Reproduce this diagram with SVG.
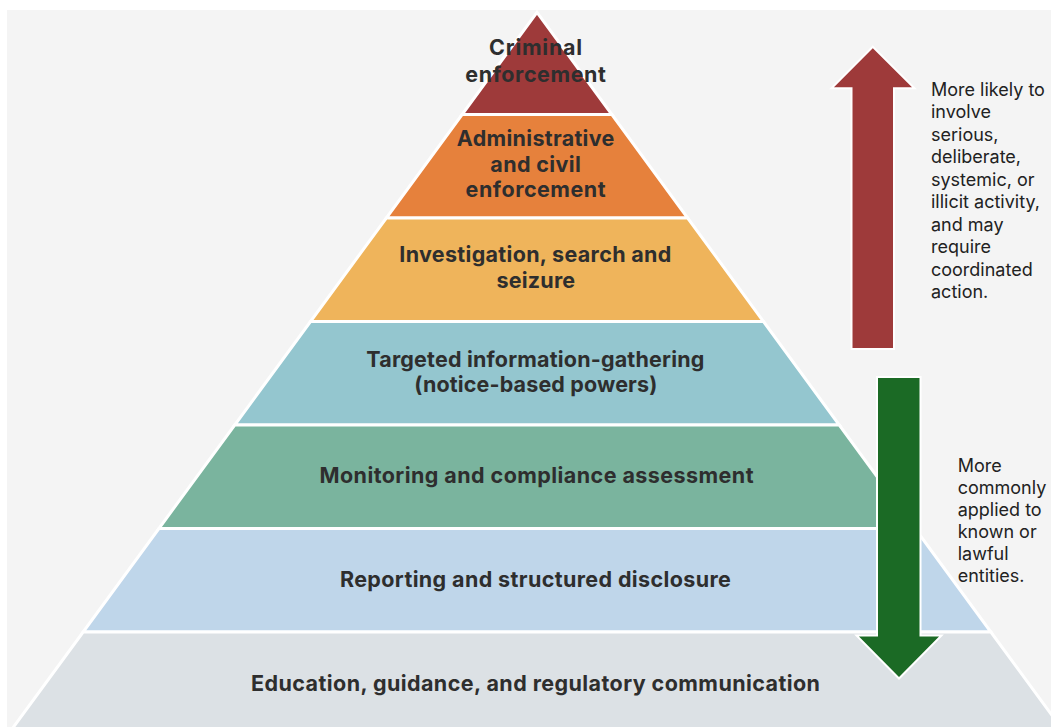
<svg xmlns="http://www.w3.org/2000/svg" width="1051" height="727" viewBox="0 0 1051 727">
  <style>
    .band { stroke: #ffffff; stroke-width: 3; stroke-linejoin: miter; }
    .lbl { font-family: Inter, "Liberation Sans", Arial, sans-serif; font-weight: 700; font-size: 21.5px; fill: #2e2e2e; text-anchor: middle; }
    .note { font-family: Inter, "Liberation Sans", Arial, sans-serif; font-size: 18px; fill: #222222; }
    .arrow { stroke: #ffffff; stroke-width: 2; stroke-linejoin: miter; }
  </style>

  <!-- page -->
  <rect x="0" y="0" width="1051" height="727" fill="#ffffff"/>
  <rect x="7" y="10" width="1044" height="717" fill="#f4f4f4"/>

  <!-- pyramid bands, top to bottom -->
  <g id="criminal-enforcement">
    <polygon class="band" fill="#9e3a3a" points="537,12.3 611.9,114.5 462.1,114.5"/>
    <text class="lbl" x="535.6" y="55" textLength="93">Criminal</text>
    <text class="lbl" x="535.6" y="81.7" textLength="140.5">enforcement</text>
  </g>

  <g id="administrative-civil-enforcement">
    <polygon class="band" fill="#e6813c" points="462.1,114.5 611.9,114.5 687.7,218 386.3,218"/>
    <text class="lbl" x="535.6" y="146" textLength="157.5">Administrative</text>
    <text class="lbl" x="535.6" y="171.7" textLength="90.5">and civil</text>
    <text class="lbl" x="535.6" y="196.7" textLength="140">enforcement</text>
  </g>

  <g id="investigation-search-seizure">
    <polygon class="band" fill="#efb45b" points="386.3,218 687.7,218 763.5,321.5 310.5,321.5"/>
    <text class="lbl" x="535.3" y="262.3" textLength="272">Investigation, search and</text>
    <text class="lbl" x="535.8" y="288.3" textLength="78.7">seizure</text>
  </g>

  <g id="targeted-information-gathering">
    <polygon class="band" fill="#94c6cf" points="310.5,321.5 763.5,321.5 839.3,425 234.7,425"/>
    <text class="lbl" x="535.3" y="366.7" textLength="338">Targeted information-gathering</text>
    <text class="lbl" x="535.8" y="392.3" textLength="243">(notice-based powers)</text>
  </g>

  <g id="monitoring-compliance">
    <polygon class="band" fill="#7ab49e" points="234.7,425 839.3,425 915.1,528.5 158.9,528.5"/>
    <text class="lbl" x="536.5" y="483" textLength="434">Monitoring and compliance assessment</text>
  </g>

  <g id="reporting-disclosure">
    <polygon class="band" fill="#bfd6ea" points="158.9,528.5 915.1,528.5 990.9,632 83.1,632"/>
    <text class="lbl" x="535.4" y="587" textLength="391">Reporting and structured disclosure</text>
  </g>

  <g id="education-guidance">
    <polygon class="band" fill="#dce1e5" points="83.1,632 990.9,632 1070,740 4,740"/>
    <text class="lbl" x="535.5" y="690.5" textLength="569">Education, guidance, and regulatory communication</text>
  </g>

  <!-- direction arrows -->
  <g id="arrows">
    <polygon id="arrow-up" class="arrow" fill="#9e3a3a" points="872.8,46.7 914.5,88.3 894,88.3 894,349 851.5,349 851.5,88.3 831.5,88.3"/>
    <polygon id="arrow-down" class="arrow" fill="#1b6a25" points="877,377 920.5,377 920.5,635.5 941.5,635.5 899,678.5 856.5,635.5 877,635.5"/>
  </g>

  <!-- side notes -->
  <g id="note-upper">
    <text class="note" x="931" y="95.7">More likely to</text>
    <text class="note" x="931" y="118.2">involve</text>
    <text class="note" x="931" y="140.7">serious,</text>
    <text class="note" x="931" y="163.2">deliberate,</text>
    <text class="note" x="931" y="185.7">systemic, or</text>
    <text class="note" x="931" y="208.2">illicit activity,</text>
    <text class="note" x="931" y="230.7">and may</text>
    <text class="note" x="931" y="253.2">require</text>
    <text class="note" x="931" y="275.7">coordinated</text>
    <text class="note" x="931" y="298.2">action.</text>
  </g>

  <g id="note-lower">
    <text class="note" x="957.7" y="471.7">More</text>
    <text class="note" x="957.7" y="493.7">commonly</text>
    <text class="note" x="957.7" y="515.7">applied to</text>
    <text class="note" x="957.7" y="537.7">known or</text>
    <text class="note" x="957.7" y="559.7">lawful</text>
    <text class="note" x="957.7" y="581.7">entities.</text>
  </g>
</svg>
